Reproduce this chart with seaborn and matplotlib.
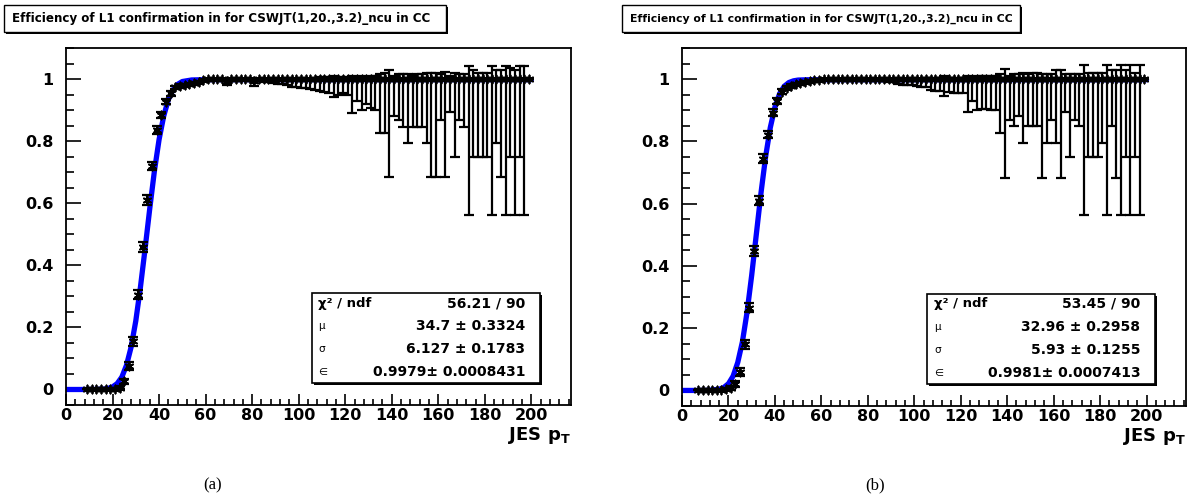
import matplotlib
matplotlib.use("Agg")
import matplotlib.pyplot as plt
import seaborn as sns
from matplotlib.patches import Rectangle
from matplotlib.ticker import MultipleLocator, FuncFormatter

sns.set_theme(style="ticks")
plt.rcParams['font.family'] = ['DejaVu Sans']
plt.rcParams['font.weight'] = 'bold'
plt.rcParams['text.color'] = 'black'
plt.rcParams['xtick.color'] = 'black'
plt.rcParams['ytick.color'] = 'black'
plt.rcParams['mathtext.fontset'] = 'custom'
plt.rcParams['mathtext.rm'] = 'DejaVu Sans:bold'
plt.rcParams['mathtext.bf'] = 'DejaVu Sans:bold'

titulo = "Efficiency of L1 confirmation in for CSWJT(1,20.,3.2)_ncu in CC"
nomes_stats = ["\u03c7\u00b2 / ndf", "\u03bc", "\u03c3", "\u2208"]

# ---------------- painel (a) ----------------
pt_a = list(range(9, 200, 2))
eff_a = [0, 0, 0, 0, 0, 0, 0,
         0.005, 0.027, 0.075, 0.155, 0.305, 0.46, 0.61, 0.72, 0.836, 0.884,
         0.927, 0.954, 0.973, 0.977, 0.98, 0.983, 0.986, 0.992, 0.996,
         1, 1, 1, 1, 0.995, 1, 1, 1, 1, 1,
         0.993, 1, 1, 1, 1, 1, 1, 1, 1, 1,
         1, 1, 1, 1, 1, 1, 1, 1, 1, 1,
         1, 1, 1, 1, 1, 1, 1, 1, 1, 1,
         1, 1, 1, 1, 1, 1, 1, 1, 1, 1,
         1, 1, 1, 1, 1, 1, 1, 1, 1, 1,
         1, 1, 1, 1, 1, 1, 1, 1, 1, 1]
lo_a = [0, 0, 0, 0, 0, 0, 0,
        0.004, 0.008, 0.012, 0.014, 0.015, 0.016, 0.015, 0.014, 0.012, 0.011,
        0.009, 0.008, 0.006, 0.006, 0.006, 0.005, 0.005, 0.004, 0.003,
        0.002, 0.002, 0.002, 0.003, 0.015, 0.003, 0.003, 0.003, 0.004, 0.004,
        0.014, 0.005, 0.01, 0.01, 0.012, 0.015, 0.015, 0.02, 0.025, 0.025,
        0.03, 0.03, 0.032, 0.035, 0.04, 0.041, 0.045, 0.057, 0.05, 0.045,
        0.052, 0.108, 0.07, 0.1, 0.08, 0.094, 0.1, 0.174, 0.174, 0.314,
        0.12, 0.132, 0.155, 0.205, 0.155, 0.155, 0.155, 0.205, 0.314, 0.314,
        0.132, 0.314, 0.107, 0.25, 0.132, 0.155, 0.437, 0.25, 0.25, 0.25,
        0.25, 0.437, 0.205, 0.314, 0.437, 0.25, 0.437, 0.25, 0.437, 0]
hi_a = [0.003, 0.003, 0.003, 0.003, 0.003, 0.003, 0.003,
        0.005, 0.008, 0.012, 0.014, 0.015, 0.016, 0.015, 0.014, 0.012, 0.011,
        0.009, 0.008, 0.006, 0.006, 0.005, 0.005, 0.004, 0.003, 0.002,
        0, 0, 0, 0, 0.004, 0, 0, 0, 0, 0,
        0.005, 0, 0, 0, 0, 0, 0, 0, 0, 0,
        0, 0, 0, 0, 0.005, 0.005, 0.005, 0.01, 0.005, 0.005,
        0.005, 0.01, 0.005, 0.01, 0.005, 0.01, 0.01, 0.015, 0.02, 0.03,
        0.01, 0.015, 0.015, 0.015, 0.01, 0.015, 0.015, 0.018, 0.018, 0.018,
        0.015, 0.023, 0.01, 0.02, 0.015, 0.015, 0.042, 0.03, 0.02, 0.02,
        0.02, 0.042, 0.03, 0.03, 0.042, 0.035, 0.03, 0.042, 0.042, 0]
curva_x_a = [0, 10, 16, 18, 20, 22, 24, 26, 28, 30, 32, 34, 36, 38, 40, 42,
             44, 46, 48, 50, 54, 60, 80, 200]
curva_y_a = [0, 0, 0.001, 0.0032, 0.0082, 0.019, 0.04, 0.078, 0.137, 0.221,
             0.33, 0.454, 0.583, 0.704, 0.805, 0.881, 0.934, 0.965, 0.983,
             0.992, 0.997, 0.998, 0.998, 0.998]
valores_a = ["56.21 / 90", "34.7 \u00b1 0.3324", "6.127 \u00b1 0.1783",
             "0.9979\u00b1 0.0008431"]

# ---------------- painel (b) ----------------
pt_b = list(range(7, 200, 2))
eff_b = [0, 0, 0, 0, 0, 0, 0.004,
         0.008, 0.02, 0.06, 0.148, 0.266, 0.449, 0.61, 0.744, 0.822, 0.892,
         0.93, 0.96, 0.973, 0.978, 0.983, 0.987, 0.99, 0.993, 0.996, 0.998,
         1, 1, 1, 1, 1, 1, 1, 1, 1, 1,
         1, 1, 1, 1, 1, 1, 1, 1, 1, 1,
         1, 1, 1, 1, 1, 1, 1, 1, 1, 1,
         1, 1, 1, 1, 1, 1, 1, 1, 1, 1,
         1, 1, 1, 1, 1, 1, 1, 1, 1, 1,
         1, 1, 1, 1, 1, 1, 1, 1, 1, 1,
         1, 1, 1, 1, 1, 1, 1, 1, 1, 1]
lo_b = [0, 0, 0, 0, 0, 0, 0.003,
        0.005, 0.008, 0.012, 0.014, 0.015, 0.016, 0.015, 0.014, 0.012, 0.011,
        0.009, 0.008, 0.006, 0.006, 0.005, 0.005, 0.004, 0.004, 0.003, 0.002,
        0.002, 0.002, 0.002, 0.002, 0.003, 0.003, 0.003, 0.003, 0.004, 0.004,
        0.004, 0.004, 0.005, 0.006, 0.008, 0.01, 0.015, 0.02, 0.02, 0.02,
        0.022, 0.025, 0.025, 0.035, 0.037, 0.037, 0.054, 0.04, 0.045, 0.045,
        0.045, 0.107, 0.07, 0.1, 0.095, 0.095, 0.1, 0.1, 0.173, 0.317,
        0.132, 0.15, 0.12, 0.204, 0.15, 0.15, 0.15, 0.317, 0.204, 0.132,
        0.204, 0.317, 0.107, 0.25, 0.132, 0.15, 0.436, 0.25, 0.25, 0.25,
        0.204, 0.436, 0.15, 0.317, 0.436, 0.25, 0.436, 0.25, 0.436, 0]
hi_b = [0.003, 0.003, 0.003, 0.003, 0.003, 0.003, 0.004,
        0.006, 0.009, 0.012, 0.014, 0.015, 0.016, 0.015, 0.014, 0.012, 0.011,
        0.009, 0.008, 0.006, 0.005, 0.005, 0.004, 0.004, 0.003, 0.002, 0.002,
        0, 0, 0, 0, 0, 0, 0, 0, 0, 0,
        0, 0, 0, 0, 0, 0, 0, 0, 0, 0,
        0, 0, 0.005, 0.005, 0.005, 0.005, 0.01, 0.005, 0.005, 0.005,
        0.005, 0.01, 0.005, 0.01, 0.01, 0.01, 0.01, 0.01, 0.015, 0.032,
        0.01, 0.015, 0.015, 0.02, 0.015, 0.02, 0.02, 0.015, 0.015, 0.015,
        0.03, 0.03, 0.015, 0.015, 0.015, 0.015, 0.045, 0.02, 0.02, 0.02,
        0.02, 0.045, 0.03, 0.03, 0.045, 0.03, 0.045, 0.02, 0.045, 0]
curva_x_b = [0, 10, 16, 18, 20, 22, 24, 26, 28, 30, 32, 34, 36, 38, 40, 42,
             44, 46, 48, 50, 54, 60, 80, 200]
curva_y_b = [0, 0, 0.0036, 0.0094, 0.0217, 0.046, 0.09, 0.156, 0.251, 0.37,
             0.502, 0.634, 0.751, 0.844, 0.91, 0.953, 0.977, 0.989, 0.9945,
             0.997, 0.998, 0.998, 0.998, 0.998]
valores_b = ["53.45 / 90", "32.96 \u00b1 0.2958", "5.93 \u00b1 0.1255",
             "0.9981\u00b1 0.0007413"]


def painel(ax, pt, eff, lo, hi, cx, cy, valores):
    sns.lineplot(x=cx, y=cy, ax=ax, color='#0000ff', lw=3.8, zorder=2)
    ax.errorbar(pt, eff, yerr=[lo, hi], fmt='none', ecolor='black',
                elinewidth=1.6, capsize=3.5, capthick=1.6, zorder=3)
    ax.errorbar(pt, eff, xerr=1, fmt='none', ecolor='black',
                elinewidth=1.6, zorder=3)
    sns.scatterplot(x=pt, y=eff, ax=ax, marker=(6, 2, 0), s=34,
                    color='black', linewidth=1.3, zorder=4)

    ax.set_xlim(0, 217)
    ax.set_ylim(-0.05, 1.1)
    ax.xaxis.set_major_locator(MultipleLocator(20))
    ax.xaxis.set_minor_locator(MultipleLocator(4))
    ax.yaxis.set_major_locator(MultipleLocator(0.2))
    ax.yaxis.set_minor_locator(MultipleLocator(0.05))
    ax.xaxis.set_major_formatter(FuncFormatter(lambda v, p: f"{v:g}" if v <= 200 else ""))
    ax.yaxis.set_major_formatter(FuncFormatter(lambda v, p: f"{v:g}" if -0.01 < v < 1.01 else ""))
    ax.tick_params(axis='y', which='major', direction='in', length=11,
                   width=1.2, labelsize=11.5, pad=9)
    ax.tick_params(axis='y', which='minor', direction='in', length=6, width=1.2)
    ax.tick_params(axis='x', which='major', direction='in', length=8,
                   width=1.2, labelsize=11.5, pad=2)
    ax.tick_params(axis='x', which='minor', direction='in', length=4, width=1.2)
    for s in ax.spines.values():
        s.set_visible(True)
        s.set_linewidth(1.3)
        s.set_color('black')
    ax.set_xlabel("")
    ax.set_ylabel("")
    ax.text(1.0, -0.056, r"JES p$_\mathbf{T}$", transform=ax.transAxes,
            ha='right', va='top', fontsize=13, fontweight='bold')

    # caixa de estatisticas
    ax.add_patch(Rectangle((0.491, 0.055), 0.452, 0.252, transform=ax.transAxes,
                           fc='black', ec='black', lw=0, zorder=5))
    ax.add_patch(Rectangle((0.487, 0.061), 0.452, 0.252, transform=ax.transAxes,
                           fc='white', ec='black', lw=1.2, zorder=6))
    linhas_y = [0.285, 0.22, 0.156, 0.092]
    for i, (nome, val) in enumerate(zip(nomes_stats, valores)):
        if i == 0:
            ax.text(0.5, linhas_y[i], nome, transform=ax.transAxes, ha='left',
                    va='center', fontsize=9.5, fontweight='bold', zorder=7)
        else:
            ax.text(0.5, linhas_y[i], nome, transform=ax.transAxes, ha='left',
                    va='center', fontsize=7.5, fontweight='normal', zorder=7)
        ax.text(0.909, linhas_y[i], val, transform=ax.transAxes, ha='right',
                va='center', fontsize=10, fontweight='bold', zorder=7)


fig = plt.figure(figsize=(11.89, 5.01), dpi=100)
ax_a = fig.add_axes([0.0555, 0.1916, 0.4247, 0.7126])
ax_b = fig.add_axes([0.5736, 0.1896, 0.4239, 0.7146])

painel(ax_a, pt_a, eff_a, lo_a, hi_a, curva_x_a, curva_y_a, valores_a)
painel(ax_b, pt_b, eff_b, lo_b, hi_b, curva_x_b, curva_y_b, valores_b)

# caixas de titulo com sombra
for x0, larg, fs in [(4, 442, 8.6), (622, 398, 7.8)]:
    fig.patches.append(Rectangle((x0 + 2, 501 - 34), larg, 27,
                                 transform=None, fc='black', ec='black', lw=0, zorder=1))
    fig.patches.append(Rectangle((x0, 501 - 32), larg, 27,
                                 transform=None, fc='white', ec='black', lw=1.0, zorder=2))
    fig.text((x0 + 8) / 1189, 1 - 18.5 / 501, titulo, ha='left', va='center',
             fontsize=fs, fontweight='bold', zorder=3)

fig.text(213 / 1189, 1 - 485 / 501, "(a)", ha='center', va='center',
         fontsize=12, family='Liberation Serif', fontweight='normal')
fig.text(875 / 1189, 1 - 485 / 501, "(b)", ha='center', va='center',
         fontsize=12, family='Liberation Serif', fontweight='normal')

fig.savefig("out.png", dpi=100)
